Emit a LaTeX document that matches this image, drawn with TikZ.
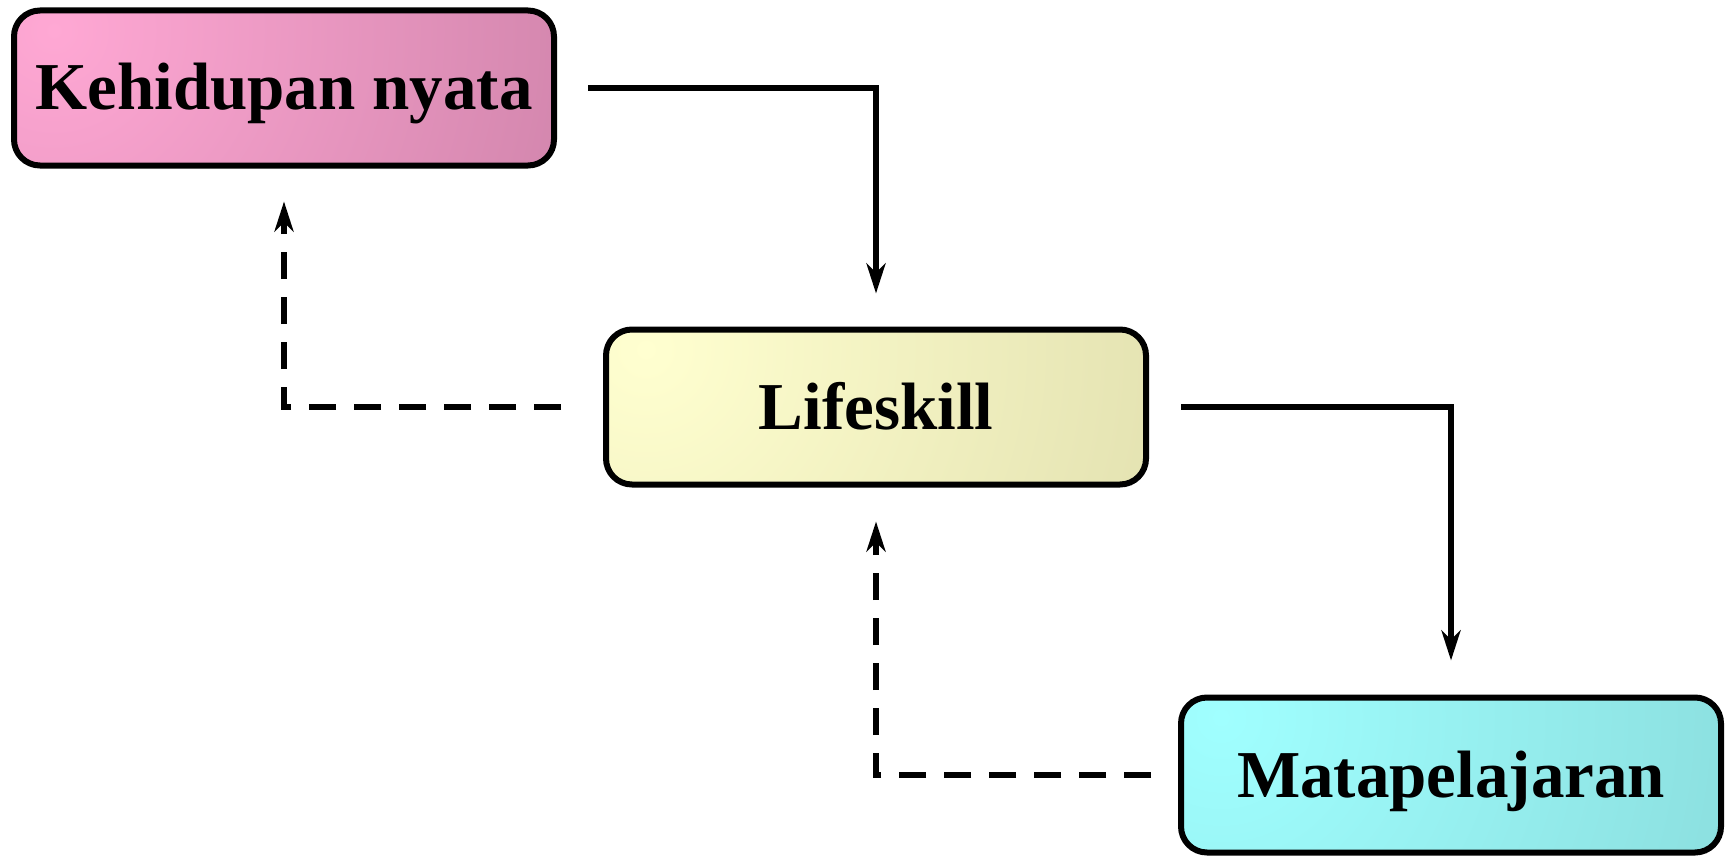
\documentclass[tikz,border=0pt]{standalone}
\usepackage{fontspec}
\setmainfont{Liberation Serif}
\usetikzlibrary{arrows.meta,calc}
\definecolor{pinkA}{RGB}{255,168,212}
\definecolor{pinkB}{RGB}{190,118,155}
\definecolor{yelA}{RGB}{255,255,208}
\definecolor{yelB}{RGB}{215,213,163}
\definecolor{cyanA}{RGB}{160,255,255}
\definecolor{cyanB}{RGB}{130,208,208}
\tikzset{
  box/.style n args={2}{draw=black, line width=6pt, rounded corners=26pt,
    minimum width=540pt, minimum height=155pt, inner sep=0pt,
    text height=44pt, text depth=0pt,
    font=\fontsize{67}{72}\selectfont\bfseries,
    path picture={\shade[inner color=#1, outer color=#2]
      ([xshift=40pt,yshift=-20pt]path picture bounding box.north west) circle (780pt);}},
  solidarrow/.style={line width=5.5pt, -{Stealth[length=30pt,width=19pt,inset=9pt]}},
  dasharrow/.style={solidarrow, dash pattern=on 27pt off 18pt},
}
\begin{document}
\begin{tikzpicture}[x=1pt,y=-1pt]
\useasboundingbox (0,0) rectangle (1728,856);
\node[box={pinkA}{pinkB}] (k) at (284,88) {Kehidupan nyata};
\node[box={yelA}{yelB}] (l) at (876,407) {Lifeskill};
\node[box={cyanA}{cyanB}] (m) at (1451,775) {Matapelajaran};
\draw[solidarrow] ($(k.east)+(31,0)$) -| ($(l.north)+(0,-33)$);
\draw[solidarrow] ($(l.east)+(32,0)$) -| ($(m.north)+(0,-34)$);
\draw[dasharrow] ($(l.west)+(-42,0)$) -| ($(k.south)+(0,33)$);
\draw[dasharrow] ($(m.west)+(-27,0)$) -| ($(l.south)+(0,34)$);
\end{tikzpicture}
\end{document}
